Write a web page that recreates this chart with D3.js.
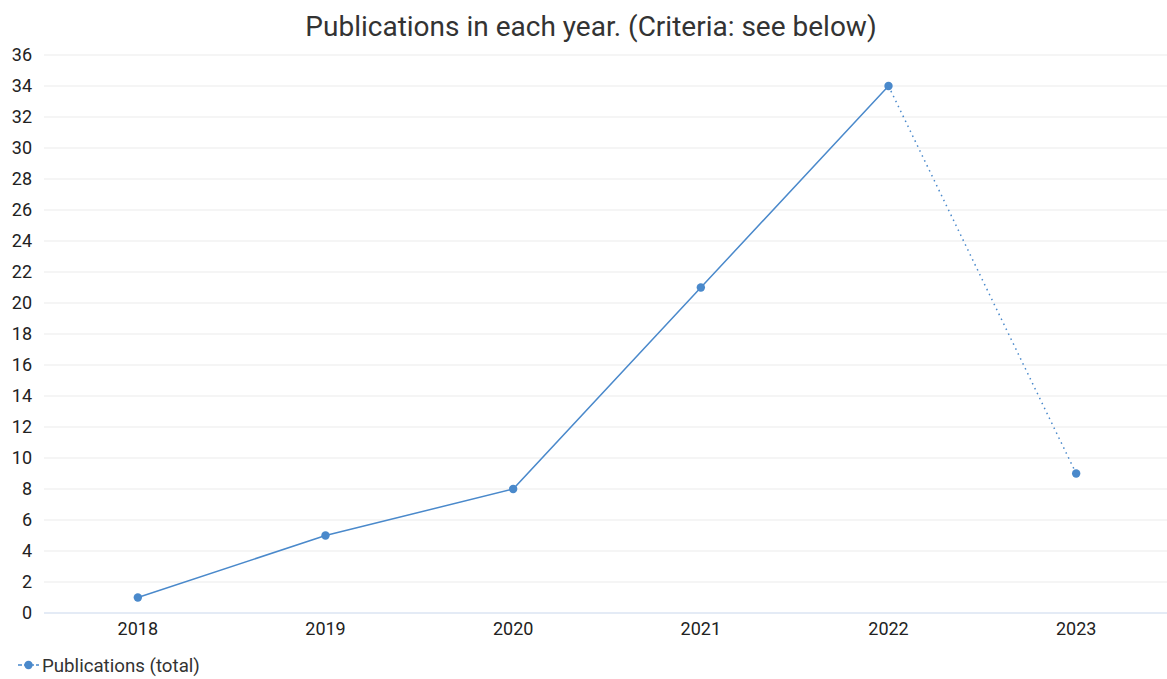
<!DOCTYPE html>
<html>
<head>
<meta charset="utf-8">
<script src="https://cdn.jsdelivr.net/npm/d3@7"></script>
<style>
  body { margin: 0; background: #fff; }
  text { font-family: Roboto, sans-serif; }
</style>
</head>
<body>
<svg width="1167" height="679"></svg>
<script>
var years = ["2018", "2019", "2020", "2021", "2022", "2023"];
var publications = [1, 5, 8, 21, 34, 9];
var yTicks = d3.range(0, 37, 2);

var svg = d3.select("svg"),
    width = +svg.attr("width"),
    height = +svg.attr("height");

var lineColor = "#4a89cb";

var x = d3.scaleBand()
    .domain(years)
    .range([44, 1170]);

var y = d3.scaleLinear()
    .domain([0, 36])
    .range([613, 55]);

function cx(d) { return x(d) + x.bandwidth() / 2; }

// title
svg.append("text")
    .attr("x", 591)
    .attr("y", 36)
    .attr("text-anchor", "middle")
    .attr("font-size", 28)
    .attr("fill", "#333")
    .text("Publications in each year. (Criteria: see below)");

// grid
svg.append("g").selectAll("line")
  .data(yTicks)
  .enter().append("line")
    .attr("x1", 44)
    .attr("x2", width)
    .attr("y1", function(d) { return y(d); })
    .attr("y2", function(d) { return y(d); })
    .attr("stroke", function(d) { return d == 0 ? "#c9d7ec" : "#ebebeb"; })
    .attr("stroke-width", 1);

// y axis labels
var ya = svg.append("g")
    .attr("transform", "translate(32,0)")
    .call(d3.axisLeft(y).tickValues(yTicks).tickSize(0).tickPadding(0));
ya.select(".domain").remove();
ya.selectAll("text")
    .attr("font-family", "Roboto, sans-serif")
    .attr("font-size", 18)
    .attr("fill", "#222");

// x axis labels
var xa = svg.append("g")
    .attr("transform", "translate(0,622)")
    .call(d3.axisBottom(x).tickSize(0).tickPadding(0));
xa.select(".domain").remove();
xa.selectAll("text")
    .attr("font-family", "Roboto, sans-serif")
    .attr("font-size", 18)
    .attr("fill", "#222");

var pts = years.map(function(d, i) { return [cx(d), y(publications[i])]; });

var line = d3.line();

// solid part (finished years)
svg.append("path")
    .attr("d", line(pts.slice(0, 5)))
    .attr("fill", "none")
    .attr("stroke", lineColor)
    .attr("stroke-width", 1.5);

// dotted part (current year)
svg.append("path")
    .attr("d", line(pts.slice(4)))
    .attr("fill", "none")
    .attr("stroke", lineColor)
    .attr("stroke-width", 1.5)
    .attr("stroke-dasharray", "1.5,4");

svg.append("g").selectAll("circle")
  .data(publications)
  .enter().append("circle")
    .attr("cx", function(d, i) { return cx(years[i]); })
    .attr("cy", function(d) { return y(d); })
    .attr("r", 4.2)
    .attr("fill", lineColor);

// legend
var lg = svg.append("g").attr("transform", "translate(0,665)");
lg.append("line")
    .attr("x1", 18).attr("x2", 39)
    .attr("stroke", lineColor)
    .attr("stroke-width", 1.5)
    .attr("stroke-dasharray", "4,2");
lg.append("circle")
    .attr("cx", 28.5).attr("r", 4.2)
    .attr("fill", lineColor);
lg.append("text")
    .attr("x", 42)
    .attr("dy", "0.35em")
    .attr("font-size", 18.7)
    .attr("fill", "#333")
    .text("Publications (total)");
</script>
</body>
</html>
